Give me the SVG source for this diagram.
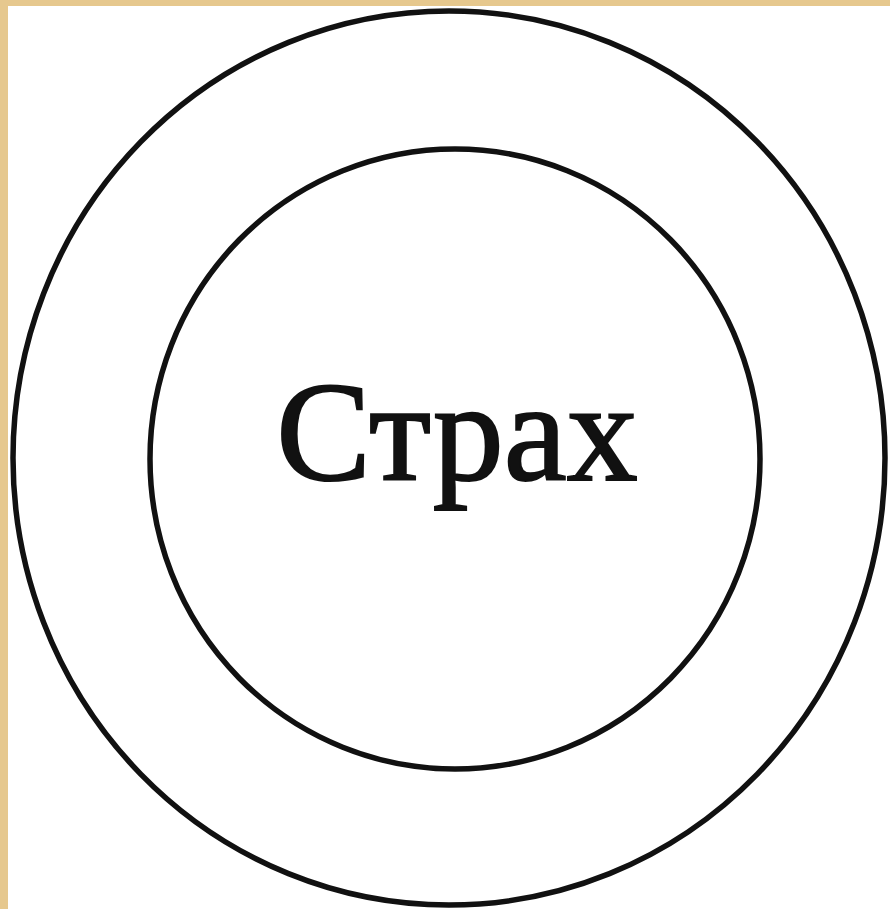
<svg xmlns="http://www.w3.org/2000/svg" width="890" height="909" viewBox="0 0 890 909">
<style>
.ring{fill:none;stroke:#111;stroke-width:5.5}
.lbl{font-family:"Liberation Serif","Times New Roman",serif;font-size:142px;fill:#111;stroke:#111;stroke-width:2}
</style>
<rect x="0" y="0" width="890" height="909" fill="#e6c88e"/>
<rect x="8" y="6" width="882" height="903" fill="#fff"/>
<g id="outer"><ellipse class="ring" cx="449" cy="458" rx="436" ry="447"/></g>
<g id="inner"><ellipse class="ring" cx="455" cy="459" rx="305" ry="310"/>
<text class="lbl" x="457" y="480" text-anchor="middle">Страх</text></g>
</svg>
